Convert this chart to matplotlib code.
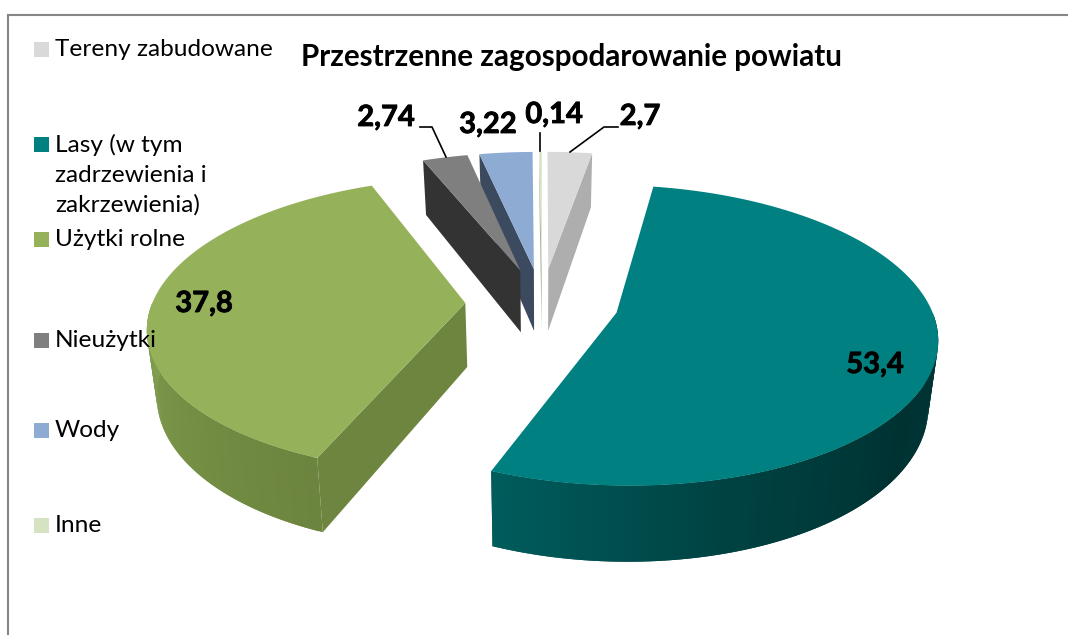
import numpy as np
import matplotlib
matplotlib.use("Agg")
import matplotlib.pyplot as plt
import matplotlib.patheffects as pe
from matplotlib.colors import to_rgb

plt.rcParams['font.family'] = ['Lato', 'DejaVu Sans']

names = ['Tereny zabudowane', 'Lasy (w tym\nzadrzewienia i\nzakrzewienia)', 'Użytki rolne',
         'Nieużytki', 'Wody', 'Inne']
values = [2.7, 53.4, 37.8, 2.74, 3.22, 0.14]
value_labels = ['2,7', '53,4', '37,8', '2,74', '3,22', '0,14']
top_colors = ['#d9d9d9', '#008080', '#95b15a', '#7f7f7f', '#8eacd3', '#d6e3c3']
wall_colors = ['#aeaeae', '#005f5f', '#6e853f', '#333333', '#3c4a60', '#a9b59a']
# rim shades, going clockwise along the visible rim
rim_colors = [['#aeaeae'] * 2, ['#003636', '#003232', '#004242', '#005c5c'],
              ['#6c843e', '#769045', '#82a052'],
              ['#333333'] * 2, ['#3c4a60'] * 2, ['#a9b59a'] * 2]

# pie geometry in pixels of the picture
cx, cy = 542, 303
rx, ry = 313, 144
depth = 64
persp = 0.149
explode = 0.245
taper = 0.025  # the underside looks a bit narrower than the top


def project(x, y, z=0):
    s = 1 / (1 + persp * y)
    return cx + rx * x * s * (1 - taper * z), cy - ry * y * s + z * depth * s


def outer_point(theta, off):
    return off[0] + np.sin(theta), off[1] + np.cos(theta)


fig = plt.figure(figsize=(10.68, 6.35), dpi=100)
ax = fig.add_axes([0, 0, 1, 1])
ax.set_xlim(0, 1068)
ax.set_ylim(635, 0)
ax.axis('off')

# frame, open at the right and bottom of the picture
ax.plot([8, 8, 1068], [635, 15, 15], color='#868686', lw=1.5, solid_joinstyle='miter')

total = sum(values)
edges = np.cumsum([0] + values) / total * 2 * np.pi
slices = []
for i in range(len(values)):
    a, b = edges[i], edges[i + 1]
    mid = (a + b) / 2
    off = (explode * np.sin(mid), explode * np.cos(mid))
    slices.append((np.cos(mid), i, a, b, off))

# far slices first
for _, i, a, b, off in sorted(slices, key=lambda t: -t[0]):
    # radial walls
    for theta, seen in ((a, np.sin(a) < 0), (b, np.sin(b) > 0)):
        if seen:
            px, py = outer_point(theta, off)
            wall = [project(off[0], off[1]), project(px, py),
                    project(px, py, 1), project(off[0], off[1], 1)]
            ax.fill(*zip(*wall), color=wall_colors[i], lw=0)
    # outer rim facing the viewer
    lo, hi = max(a, np.pi / 2), min(b, 3 * np.pi / 2)
    if hi > lo:
        th = np.linspace(lo, hi, 90)
        stops = np.array([to_rgb(c) for c in rim_colors[i]])
        pos = np.linspace(0, 1, len(stops))
        for k in range(len(th) - 1):
            # each quad overlaps the next one so no seams show
            k2 = min(k + 2, len(th) - 1)
            p0, p1 = outer_point(th[k], off), outer_point(th[k2], off)
            quad = [project(*p0), project(*p1), project(*p1, 1), project(*p0, 1)]
            f = k / (len(th) - 2)
            col = [np.interp(f, pos, stops[:, c]) for c in range(3)]
            ax.fill(*zip(*quad), color=col, lw=0)
    # top face
    th = np.linspace(a, b, 120)
    face = [project(off[0], off[1])] + [project(*outer_point(t, off)) for t in th]
    ax.fill(*zip(*face), color=top_colors[i], lw=0)

ax.text(571, 57, 'Przestrzenne zagospodarowanie powiatu', ha='center', va='center',
        fontsize=21.3, fontweight='bold', color='black')

# legend, hand placed as in the original
legend_y = [49.5, 144.5, 239.5, 340.5, 430.5, 525.5]
for name, col, y in zip(names, top_colors, legend_y):
    ax.fill([34, 49, 49, 34], [y - 7.5, y - 7.5, y + 7.5, y + 7.5], color=col, lw=0)
    ax.text(55, y - 10.5, name, ha='left', va='top', fontsize=17.6, color='black', linespacing=1.5)

# data labels, a thin stroke makes them as heavy as in the original
label_pos = [(640, 117), (875, 365), (204, 304), (386, 118), (488, 125), (554, 115)]
for txt, (x, y) in zip(value_labels, label_pos):
    ax.text(x, y, txt, ha='center', va='center', fontsize=21, fontweight='bold', color='black',
            path_effects=[pe.withStroke(linewidth=0.6, foreground='black')])

# leader lines
ax.plot([420, 432, 446], [127, 127, 157], color='black', lw=1.2)
ax.plot([540, 540], [133, 151], color='black', lw=1.2)
ax.plot([618, 604, 570], [127, 127, 152], color='black', lw=1.2)

fig.savefig('out.png', dpi=100)
